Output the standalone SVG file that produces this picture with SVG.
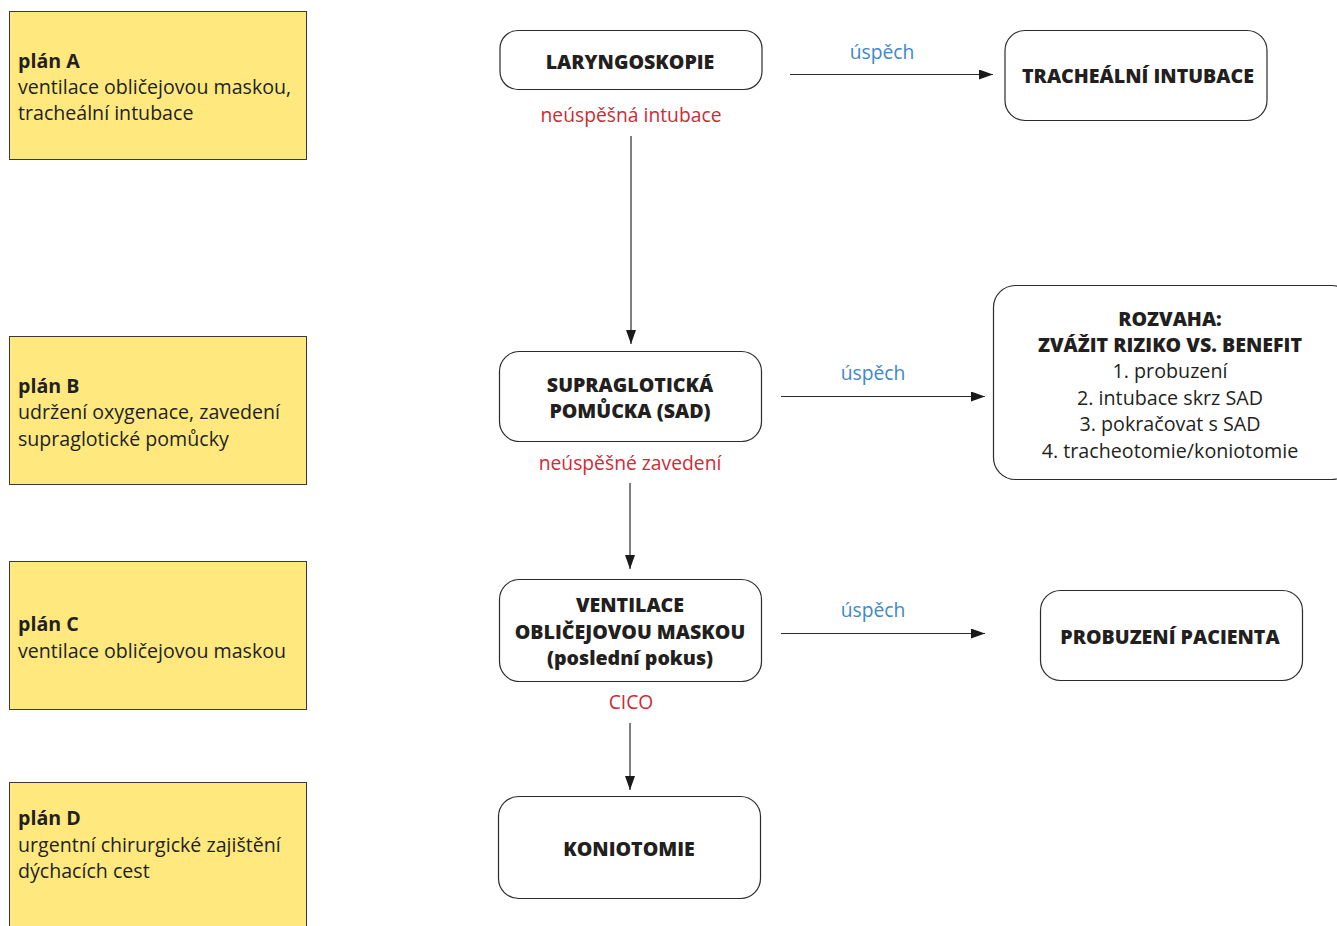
<svg xmlns="http://www.w3.org/2000/svg" width="1337" height="926" viewBox="0 0 1337 926">
  <style>
    .plan { fill: #FFE97F; stroke: #3a3a3a; stroke-width: 1; }
    .node { fill: #ffffff; stroke: #2b2b2b; stroke-width: 1.2; }
    .ptxt { font-family: "Open Sans", "Liberation Sans", sans-serif; font-size: 19.6px; fill: #231f20; }
    .pb { font-weight: 700; }
    .ntxt { font-family: "Open Sans", "Liberation Sans", sans-serif; font-size: 19.6px; font-weight: 800; fill: #231f20; text-anchor: middle; }
    .ltxt { font-family: "Open Sans", "Liberation Sans", sans-serif; font-size: 19.7px; fill: #231f20; text-anchor: middle; }
    .fail { font-family: "Open Sans", "Liberation Sans", sans-serif; font-size: 19.3px; fill: #cf2a35; text-anchor: middle; }
    .ok { font-family: "Open Sans", "Liberation Sans", sans-serif; font-size: 19.3px; fill: #3d88c9; text-anchor: middle; }
    .edge { stroke: #2b2b2b; stroke-width: 1.2; fill: none; marker-end: url(#head); }
  </style>
  <defs>
    <marker id="head" viewBox="0 0 14 10" refX="14" refY="5" markerWidth="14" markerHeight="10" markerUnits="userSpaceOnUse" orient="auto">
      <path d="M0,0 L14,5 L0,10 Z" fill="#1a1a1a"/>
    </marker>
  </defs>
  <rect width="1337" height="926" fill="#ffffff"/>

  <!-- plan column -->
  <g id="planA">
    <rect class="plan" x="9.5" y="11.5" width="297" height="148"/>
    <text class="ptxt" x="18" y="68"><tspan class="pb">plán A</tspan><tspan x="18" y="94">ventilace obličejovou maskou,</tspan><tspan x="18" y="120">tracheální intubace</tspan></text>
  </g>
  <g id="planB">
    <rect class="plan" x="9.5" y="336.5" width="297" height="148"/>
    <text class="ptxt" x="18" y="393"><tspan class="pb">plán B</tspan><tspan x="18" y="419">udržení oxygenace, zavedení</tspan><tspan x="18" y="446">supraglotické pomůcky</tspan></text>
  </g>
  <g id="planC">
    <rect class="plan" x="9.5" y="561.5" width="297" height="148"/>
    <text class="ptxt" x="18" y="631"><tspan class="pb">plán C</tspan><tspan x="18" y="658">ventilace obličejovou maskou</tspan></text>
  </g>
  <g id="planD">
    <rect class="plan" x="9.5" y="782.5" width="297" height="160"/>
    <text class="ptxt" x="18" y="825"><tspan class="pb">plán D</tspan><tspan x="18" y="852">urgentní chirurgické zajištění</tspan><tspan x="18" y="878">dýchacích cest</tspan></text>
  </g>

  <!-- flow nodes -->
  <g id="laryngoskopie">
    <rect class="node" x="500" y="30.5" width="262" height="59" rx="18"/>
    <text class="ntxt" x="630" y="69">LARYNGOSKOPIE</text>
  </g>
  <g id="tracheal">
    <rect class="node" x="1005" y="30.5" width="262" height="90" rx="20"/>
    <text class="ntxt" x="1138" y="83">TRACHEÁLNÍ INTUBACE</text>
  </g>
  <g id="sad">
    <rect class="node" x="499.5" y="351.5" width="262" height="90" rx="20"/>
    <text class="ntxt" x="630" y="392">SUPRAGLOTICKÁ<tspan x="630" y="418">POMŮCKA (SAD)</tspan></text>
  </g>
  <g id="rozvaha">
    <rect class="node" x="993.5" y="285.5" width="360" height="194" rx="22"/>
    <text class="ntxt" x="1170" y="326">ROZVAHA:<tspan x="1170" y="352">ZVÁŽIT RIZIKO VS. BENEFIT</tspan></text>
    <text class="ltxt" x="1170" y="378">1. probuzení<tspan x="1170" y="405">2. intubace skrz SAD</tspan><tspan x="1170" y="431">3. pokračovat s SAD</tspan><tspan x="1170" y="458">4. tracheotomie/koniotomie</tspan></text>
  </g>
  <g id="ventilace">
    <rect class="node" x="499.5" y="579.5" width="262" height="102" rx="20"/>
    <text class="ntxt" x="630" y="612">VENTILACE<tspan x="630" y="639">OBLIČEJOVOU MASKOU</tspan><tspan x="630" y="665">(poslední pokus)</tspan></text>
  </g>
  <g id="probuzeni">
    <rect class="node" x="1040.5" y="590.5" width="262" height="90" rx="20"/>
    <text class="ntxt" x="1170" y="644">PROBUZENÍ PACIENTA</text>
  </g>
  <g id="koniotomie">
    <rect class="node" x="498.5" y="796.5" width="262" height="102" rx="20"/>
    <text class="ntxt" x="629" y="856">KONIOTOMIE</text>
  </g>

  <!-- connectors and their labels -->
  <g id="connectors">
    <line class="edge" x1="631" y1="136" x2="631" y2="344"/>
    <line class="edge" x1="630" y1="483" x2="630" y2="569"/>
    <line class="edge" x1="630" y1="723" x2="630" y2="790"/>
    <line class="edge" x1="790" y1="74.5" x2="993" y2="74.5"/>
    <line class="edge" x1="781" y1="396.5" x2="985" y2="396.5"/>
    <line class="edge" x1="781" y1="633.5" x2="985" y2="633.5"/>
    <text class="fail" x="631" y="122">neúspěšná intubace</text>
    <text class="fail" x="630" y="470">neúspěšné zavedení</text>
    <text class="fail" x="631" y="709">CICO</text>
    <text class="ok" x="882" y="59">úspěch</text>
    <text class="ok" x="873" y="380">úspěch</text>
    <text class="ok" x="873" y="617">úspěch</text>
  </g>
</svg>
